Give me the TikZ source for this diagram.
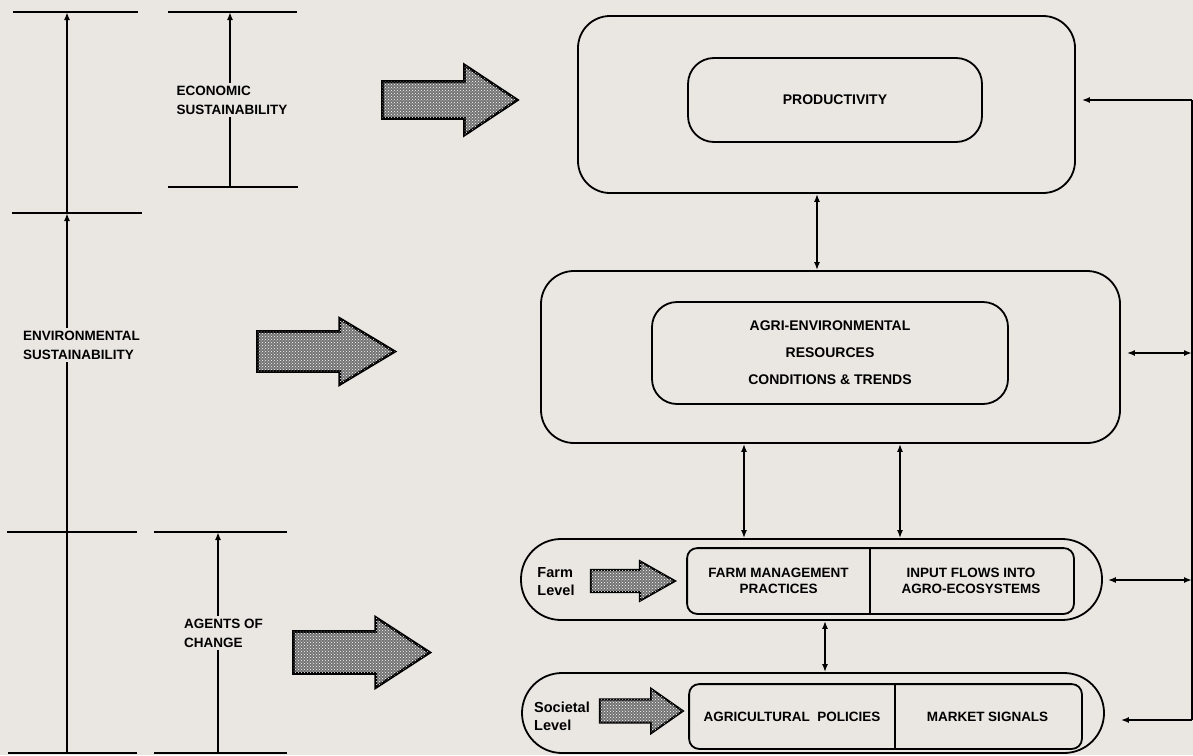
\documentclass[tikz,border=0pt]{standalone}
\usepackage{fontspec}
\setmainfont{Liberation Sans}
\usetikzlibrary{arrows.meta,shapes.arrows,patterns,fit,calc}
\definecolor{paper}{RGB}{234,231,226}

\begin{document}
\begin{tikzpicture}
	[
	 x = 1pt, y = -1pt,
	 line width = 1.8pt,
	 >={Latex[length=8pt,width=6pt]},
	 every node/.style = {inner sep = 0pt},
	 OB/.style = {shape=rectangle,
	              draw,
	              rounded corners = 32pt
	             },
	 IB/.style = {shape=rectangle,
	              draw,
	              align = center,
	              rounded corners = 25pt,
	              font = \fontsize{14}{27}\selectfont\bfseries
	             },
	 TB/.style = {align = center,
	              font = \fontsize{13.5}{16}\selectfont\bfseries},
	 LV/.style = {align = left,
	              font = \fontsize{14.5}{18}\selectfont\bfseries},
	 LB/.style = {align = left,
	              inner sep = 2pt,
	              font = \fontsize{13.5}{19}\selectfont\bfseries},
	 HA/.style = {single arrow,
	              draw,
	              line width = 2.8pt,
	              fill = black!55,
	              postaction = {pattern = crosshatch dots, pattern color = white!90},
	              single arrow head indent = 0pt}
	]
	
	\newcommand{\AER}{AGRI-ENVIRONMENTAL\\RESOURCES\\CONDITIONS \& TRENDS}
	\newcommand{\FMP}{FARM MANAGEMENT\\PRACTICES}
	\newcommand{\IFA}{INPUT FLOWS INTO\\AGRO-ECOSYSTEMS}
	
	\path[use as bounding box, fill = paper] (0,0) rectangle (1193,755);
	
	% boxes on the right
	\node[OB, minimum width = 497pt, minimum height = 177pt] (prodout) at (826.5,104.5) {};
	\node[IB, minimum width = 294pt, minimum height = 84pt, rounded corners = 26pt] (prodin) at (835,100) {PRODUCTIVITY};
	
	\node[OB, minimum width = 579pt, minimum height = 172pt, rounded corners = 33pt] (agriout) at (830.5,357) {};
	\node[IB, minimum width = 356pt, minimum height = 102pt] (agriin) at (830,353) {\AER};
	
	\node[OB, minimum width = 581pt, minimum height = 81pt, rounded corners = 40pt] (farmout) at (811.5,579.5) {};
	\node[TB, minimum width = 181pt, minimum height = 64pt] (fmp) at (778.5,581) {\FMP};
	\node[TB, minimum width = 204pt, minimum height = 64pt] (ifa) at (971,581) {\IFA};
	\node[IB, fit = (fmp)(ifa), rounded corners = 10pt] (farmin) {};
	\draw (fmp.north east) -- (fmp.south east);
	
	\node[OB, minimum width = 582pt, minimum height = 80pt, rounded corners = 40pt] (socout) at (813,713) {};
	\node[TB, minimum width = 204pt, minimum height = 63pt] (agp) at (792,716.5) {AGRICULTURAL\ \ POLICIES};
	\node[TB, minimum width = 187pt, minimum height = 63pt] (mks) at (987.5,716.5) {MARKET SIGNALS};
	\node[IB, fit = (agp)(mks), rounded corners = 10pt] (socin) {};
	\draw (agp.north east) -- (agp.south east);
	
	\node[LV] (farmlab) at (556,582) {Farm\\Level};
	\node[LV] (soclab)  at (562,716) {Societal\\Level};
	
	% hatched arrows
	\node[HA, inner xsep = 52pt, inner ysep = 17pt, single arrow head extend = 16.5pt, single arrow tip angle = 67] (arrEco) at (436,100) {};
	\node[HA, inner xsep = 50.5pt, inner ysep = 18.5pt, single arrow head extend = 13pt, single arrow tip angle = 62] (arrEnv) at (309.5,351.5) {};
	\node[HA, inner xsep = 50.5pt, inner ysep = 19.5pt, single arrow head extend = 14pt, single arrow tip angle = 66] (arrAge) at (345.5,652.5) {};
	\node[HA, line width = 2.2pt, inner xsep = 31pt, inner ysep = 10pt, single arrow head extend = 8.5pt, single arrow tip angle = 59] (arrFarm) at (623,581) {};
	\node[HA, line width = 2.2pt, inner xsep = 32pt, inner ysep = 10.5pt, single arrow head extend = 10.5pt, single arrow tip angle = 70] (arrSoc) at (633,711) {};
	
	% links between the boxes
	\draw[<->] ($(prodout.south)+(-9.5,0)$) -- ($(prodout.south |- agriout.north)+(-9.5,0)$);
	\draw[<->] ($(agriout.south)+(-86.5,0)$) -- ($(agriout.south |- farmout.north)+(-86.5,0)$);
	\draw[<->] ($(agriout.south)+(69.5,0)$)  -- ($(agriout.south |- farmout.north)+(69.5,0)$);
	\draw[<->] ($(farmout.south)+(13.5,0)$)  -- ($(farmout.south |- socout.north)+(13.5,0)$);
	
	\coordinate (R1) at (1192,100);
	\coordinate (R2) at (1192,353);
	\coordinate (R3) at (1192,580);
	\coordinate (R4) at (1192,720);
	\draw (R1) -- (R4);
	\draw[->, shorten > = 6pt]   (R1) -- (R1 -| prodout.east);
	\draw[<->, shorten > = 6pt]  (R2) -- (R2 -| agriout.east);
	\draw[<->, shorten > = 5pt]  (R3) -- (R3 -| farmout.east);
	\draw[->, shorten > = 16pt]  (R4) -- (R4 -| socout.east);
	
	% scales on the left
	\draw (13,12) -- (138,12);
	\draw (12,213) -- (142,213);
	\draw (7,532) -- (137,532);
	\draw (8,753) -- (137,753);
	\draw (168,12) -- (297,12);
	\draw (168,187) -- (298,187);
	\draw (154,532) -- (287,532);
	\draw (154,753) -- (287,753);
	
	\begin{scope}[nodes = {LB}]
	  \node (eco) at (232,100)   {ECONOMIC\\SUSTAINABILITY};
	  \node (env) at (81.5,345)  {ENVIRONMENTAL\\SUSTAINABILITY};
	  \node (agc) at (223.5,633) {AGENTS OF\\CHANGE};
	\end{scope}
	
	\coordinate (L0) at (67,12);
	\coordinate (L1) at (67,213);
	\coordinate (L3) at (67,753);
	\coordinate (E0) at (230,12);
	\coordinate (E1) at (230,187);
	\coordinate (A0) at (218,532);
	\coordinate (A1) at (218,753);
	
	\draw[->] (L1) -- (L0);
	\draw[->] (env.north -| L0) -- (L1);
	\draw     (env.south -| L0) -- (L3);
	\draw[->] (eco.north -| E0) -- (E0);
	\draw     (eco.south -| E0) -- (E1);
	\draw[->] (agc.north -| A0) -- (A0);
	\draw     (agc.south -| A0) -- (A1);
\end{tikzpicture}
\end{document}
